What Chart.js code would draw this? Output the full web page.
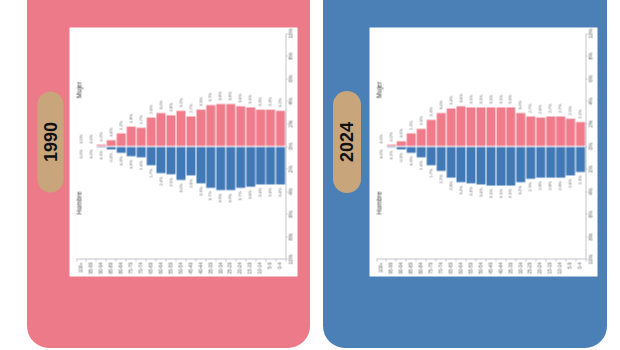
<!DOCTYPE html>
<html>
<head>
<meta charset="utf-8">
<script src="https://cdn.jsdelivr.net/npm/chart.js@4.4.0/dist/chart.umd.min.js"></script>
<style>
  body { margin: 0; width: 620px; height: 350px; overflow: hidden; background: #fff; position: relative;
         font-family: "Liberation Sans", Arial, sans-serif; }
  .card { position: absolute; top: -40px; height: 388px; border-radius: 22px; }
  .pill { position: absolute; border-radius: 14px; background: #c9a57c; transform: rotate(-90deg);
          text-align: center; font-weight: bold; font-size: 18px; color: #111; }
  .box  { position: absolute; background: #fff; transform: rotate(-90deg); }
</style>
</head>
<body>
<div class="card" style="left:27px;width:283px;background:#ed7a89"></div>
<div class="card" style="left:323px;width:284px;background:#4a80b5"></div>

<div class="pill" style="left:-0.5px;top:128.5px;width:101px;height:26px;line-height:26px">1990</div>
<div class="pill" style="left:296px;top:128px;width:102px;height:28px;line-height:28px">2024</div>

<div class="box" id="Box-1990" style="left:59px;top:38px;width:249px;height:228px"><canvas id="Canvas-1990"></canvas></div>
<div class="box" id="Box-2024" style="left:358.5px;top:38px;width:249px;height:228px"><canvas id="Canvas-2024"></canvas></div>

<script>
//______________________________________________________
// grupos de edad, de arriba (100+) hacia abajo (0-4) en la piramide original
var AgeGroups = ['100+', '95-99', '90-94', '85-89', '80-84', '75-79', '70-74', '65-69', '60-64', '55-59',
                 '50-54', '45-49', '40-44', '35-39', '30-34', '25-29', '20-24', '15-19', '10-14', '5-9', '0-4'];

// porcentaje de poblacion
var Mujer1990  = [0.0, 0.0, 0.2, 0.6, 1.2, 1.8, 1.7, 2.6, 3.0, 2.8, 3.2, 2.7, 3.3, 3.7, 3.8, 3.8, 3.6, 3.5, 3.3, 3.3, 3.2];
var Hombre1990 = [0.0, 0.0, 0.1, 0.3, 0.6, 0.9, 1.0, 1.7, 2.4, 2.5, 3.0, 2.6, 3.3, 3.7, 3.9, 3.9, 3.7, 3.6, 3.4, 3.4, 3.4];
var Mujer2024  = [0.0, 0.2, 0.5, 1.2, 1.6, 2.4, 3.0, 3.4, 3.6, 3.5, 3.5, 3.5, 3.5, 3.5, 3.0, 2.7, 2.6, 2.7, 2.7, 2.5, 2.2];
var Hombre2024 = [0.0, 0.1, 0.3, 0.6, 1.0, 1.7, 2.2, 2.8, 3.2, 3.3, 3.4, 3.5, 3.5, 3.5, 3.2, 2.9, 2.8, 2.8, 2.8, 2.6, 2.3];

var PctMin = -10;
var PctMax = 10;
var PctStep = 2;

const ColorMujer  = '#ef7b8b';
const ColorHombre = '#4179b6';
const ColorAxis   = '#c2c5ce';
const ColorText   = '#666';
const FontName    = '"Liberation Sans", Arial, sans-serif';

//______________________________________________________
const barLabels = { // "x.x%" al final de cada barra
    id: 'barLabels',
    afterDatasetsDraw(chart) {
        var ctx = chart.ctx;
        ctx.save();
        ctx.font = '4px ' + FontName;
        ctx.fillStyle = ColorText;
        ctx.textBaseline = 'middle';
        chart.data.datasets.forEach(function(ds, i) {
            chart.getDatasetMeta(i).data.forEach(function(bar, j) {
                var txt = Math.abs(ds.data[j]).toFixed(1) + '%';
                if (ds.side > 0) { ctx.textAlign = 'left';  ctx.fillText(txt, bar.x + 3, bar.y); }
                else             { ctx.textAlign = 'right'; ctx.fillText(txt, bar.x - 3, bar.y); }
            });
        });
        ctx.restore();
    }
};
//______________________________________________________
const sideLabels = { // "Hombre" / "Mujer" arriba del grafico
    id: 'sideLabels',
    afterDraw(chart) {
        var ctx = chart.ctx;
        var x = chart.scales.x;
        ctx.save();
        ctx.font = '6.5px ' + FontName;
        ctx.fillStyle = '#333';
        ctx.textAlign = 'center';
        ctx.textBaseline = 'middle';
        ctx.fillText('Hombre', x.getPixelForValue(-5), 10);
        ctx.fillText('Mujer',  x.getPixelForValue(5), 10);
        ctx.restore();
    }
};
//______________________________________________________
function makePyramid (canvasId, mujer, hombre) {
    return new Chart(canvasId, {
        type: 'bar',
        data: {
            labels: AgeGroups,
            datasets: [
                { label: 'Mujer', side: 1, data: mujer, backgroundColor: ColorMujer,
                  borderColor: 'rgba(255,255,255,0.55)', borderWidth: 0.8 },
                { label: 'Hombre', side: -1, data: hombre.map(function(v) { return -v; }), backgroundColor: ColorHombre,
                  borderColor: 'rgba(255,255,255,0.55)', borderWidth: 0.8 }
            ]
        },
        options: {
            indexAxis: 'y',
            responsive: true,
            maintainAspectRatio: false,
            animation: false,
            layout: { padding: { left: 2, right: 5, top: 7, bottom: 2 } },
            datasets: { bar: { barPercentage: 1, categoryPercentage: 1 } },
            plugins: { legend: { display: false }, tooltip: { enabled: false } },
            scales: {
                x: {
                    min: PctMin, max: PctMax, stacked: true,
                    border: { color: ColorAxis },
                    grid: { drawOnChartArea: false, tickLength: 2, color: ColorAxis },
                    ticks: { stepSize: PctStep, autoSkip: false, maxRotation: 0, padding: 1,
                             color: ColorText, font: { size: 5, family: FontName },
                             callback: function(v) { return Math.abs(v) + '%'; } },
                    afterFit: function(s) { s.height = 10; }
                },
                y: {
                    stacked: true,
                    border: { color: ColorAxis },
                    grid: { drawOnChartArea: false, tickLength: 2, color: ColorAxis },
                    ticks: { autoSkip: false, padding: 1, color: ColorText, font: { size: 4.5, family: FontName } },
                    afterFit: function(s) { s.width = 15; }
                }
            }
        },
        plugins: [barLabels, sideLabels]
    });
}
//______________________________________________________
makePyramid('Canvas-1990', Mujer1990, Hombre1990);
makePyramid('Canvas-2024', Mujer2024, Hombre2024);
</script>
</body>
</html>
